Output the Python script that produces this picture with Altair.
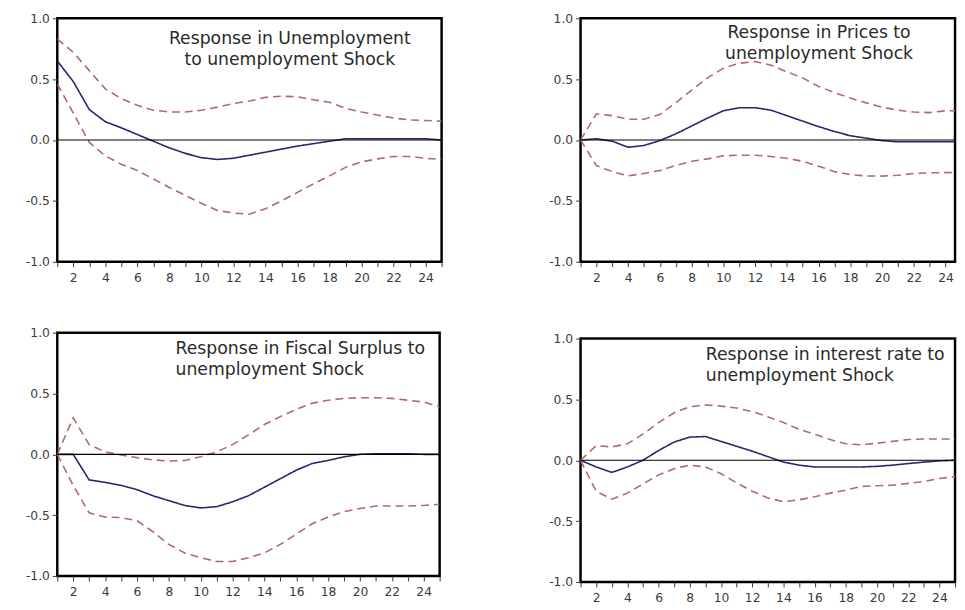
import altair as alt
import pandas as pd

periods = list(range(1, 26))

# Response in Unemployment to unemployment shock
unemp_resp = [0.65, 0.48, 0.25, 0.15, 0.10, 0.045, -0.01, -0.065, -0.11, -0.145, -0.16, -0.15, -0.125,
              -0.10, -0.075, -0.05, -0.03, -0.01, 0.01, 0.01, 0.01, 0.01, 0.01, 0.01, 0.0]
unemp_upper = [0.83, 0.72, 0.57, 0.42, 0.34, 0.285, 0.245, 0.23, 0.23, 0.245, 0.27, 0.30, 0.32,
               0.35, 0.36, 0.355, 0.33, 0.31, 0.26, 0.23, 0.205, 0.18, 0.165, 0.16, 0.155]
unemp_lower = [0.46, 0.22, -0.02, -0.13, -0.20, -0.25, -0.32, -0.39, -0.455, -0.52, -0.58, -0.60, -0.61,
               -0.565, -0.50, -0.43, -0.36, -0.295, -0.225, -0.18, -0.155, -0.135, -0.135, -0.15, -0.16]

# Response in Prices to unemployment shock
price_resp = [0.0, 0.01, -0.01, -0.06, -0.045, -0.005, 0.05, 0.115, 0.18, 0.24, 0.265, 0.265, 0.245,
              0.20, 0.155, 0.11, 0.07, 0.035, 0.015, -0.005, -0.015, -0.015, -0.015, -0.015, -0.015]
price_upper = [0.0, 0.215, 0.20, 0.17, 0.17, 0.21, 0.305, 0.41, 0.51, 0.59, 0.63, 0.645, 0.615,
               0.56, 0.51, 0.44, 0.39, 0.345, 0.305, 0.27, 0.245, 0.23, 0.225, 0.24, 0.24]
price_lower = [0.0, -0.21, -0.26, -0.295, -0.275, -0.25, -0.21, -0.175, -0.155, -0.13, -0.125, -0.125, -0.135,
               -0.15, -0.175, -0.215, -0.26, -0.285, -0.295, -0.297, -0.29, -0.275, -0.27, -0.268, -0.265]

# Response in Fiscal Surplus to unemployment shock
fisc_resp = [0.0, 0.0, -0.21, -0.23, -0.255, -0.29, -0.34, -0.38, -0.42, -0.44, -0.43, -0.39, -0.34,
             -0.27, -0.20, -0.13, -0.075, -0.05, -0.02, 0.0, 0.005, 0.005, 0.005, 0.0, 0.0]
fisc_upper = [0.0, 0.30, 0.08, 0.02, -0.005, -0.027, -0.045, -0.055, -0.05, -0.02, 0.02, 0.08, 0.16,
              0.245, 0.31, 0.37, 0.42, 0.445, 0.46, 0.465, 0.465, 0.46, 0.445, 0.43, 0.39]
fisc_lower = [0.0, -0.255, -0.48, -0.515, -0.52, -0.545, -0.635, -0.74, -0.81, -0.85, -0.88, -0.88, -0.85,
              -0.81, -0.74, -0.655, -0.57, -0.515, -0.47, -0.445, -0.425, -0.425, -0.425, -0.42, -0.41]

# Response in interest rate to unemployment shock
rate_resp = [0.0, -0.055, -0.10, -0.055, 0.0, 0.08, 0.15, 0.19, 0.195, 0.155, 0.115, 0.075, 0.03,
             -0.015, -0.04, -0.055, -0.055, -0.055, -0.055, -0.05, -0.04, -0.027, -0.015, -0.005, 0.0]
rate_upper = [0.0, 0.12, 0.11, 0.135, 0.215, 0.31, 0.39, 0.44, 0.455, 0.445, 0.43, 0.40, 0.357,
              0.31, 0.255, 0.215, 0.17, 0.135, 0.127, 0.14, 0.155, 0.17, 0.175, 0.175, 0.175]
rate_lower = [0.0, -0.255, -0.32, -0.27, -0.195, -0.12, -0.07, -0.04, -0.055, -0.11, -0.185, -0.255, -0.31,
              -0.34, -0.325, -0.30, -0.27, -0.245, -0.215, -0.21, -0.205, -0.19, -0.175, -0.15, -0.135]

titles = {
    "unemp": ["Response in Unemployment", "to unemployment Shock"],
    "price": ["Response in Prices to", "unemployment Shock"],
    "fisc": ["Response in Fiscal Surplus to", "unemployment Shock"],
    "rate": ["Response in interest rate to", "unemployment Shock"],
}
y_ticks = [-1.0, -0.5, 0.0, 0.5, 1.0]

NAVY = "#26266e"
RED = "#b06a6a"
FONT = "DejaVu Sans"


def panel(resp, up, lo, lines, tx, ty, talign, width, yext, xmax=25):
    rows = []
    for name, kind, vals in (("response", "response", resp), ("upper", "band", up), ("lower", "band", lo)):
        for p, v in zip(periods, vals):
            rows.append({"period": p, "value": v, "series": name, "kind": kind})
    df = pd.DataFrame(rows)
    one = pd.DataFrame({"k": [0]})

    xs = alt.Scale(domain=[1, xmax], nice=False, zero=False)
    ys = alt.Scale(domain=[-1, 1], nice=False, zero=False)
    xvals = [p for p in periods if p <= xmax]
    xax = alt.Axis(orient="bottom", values=xvals, labelExpr="datum.value % 2 == 0 ? datum.label : ''",
                   format="d", tickSize=5, labelPadding=5, labelFlush=False,
                   labelOverlap=False, grid=False, domain=False)
    yax = alt.Axis(orient="left", values=y_ticks, tickSize=5, labelPadding=3,
                   labelExpr="datum.value < 0 ? '-' + format(-datum.value, '.1f') : format(datum.value, '.1f')",
                   minExtent=yext, maxExtent=yext, grid=False, domain=False)

    line = alt.Chart(df).mark_line(strokeWidth=1.6, clip=True).encode(
        x=alt.X("period:Q", scale=xs, axis=xax, title=None),
        y=alt.Y("value:Q", scale=ys, axis=yax, title=None),
        color=alt.Color("kind:N", scale=alt.Scale(domain=["response", "band"], range=[NAVY, RED]), legend=None),
        strokeDash=alt.StrokeDash("kind:N", scale=alt.Scale(domain=["response", "band"], range=[[1, 0], [8, 5]]),
                                  legend=None),
        detail="series:N",
    )
    zero = alt.Chart(one).mark_rule(color="black", strokeWidth=1.2).encode(y=alt.YDatum(0, axis=None))
    text = alt.Chart(one).mark_text(align=talign, baseline="alphabetic", font=FONT, fontSize=17.5,
                                    lineHeight=21, color="#2a2a2a").encode(
        x=alt.value(tx), y=alt.value(ty), text=alt.value(lines))
    return alt.layer(line, zero, text).resolve_axis(x="independent", y="independent").properties(
        width=width, height=247)


tl = panel(unemp_resp, unemp_upper, unemp_lower, titles["unemp"], 236, 26, "center", 390, 48)
bl = panel(fisc_resp, fisc_upper, fisc_lower, titles["fisc"], 120, 22, "left", 388, 48)
tr = panel(price_resp, price_upper, price_lower, titles["price"], 242, 20, "center", 380, 47, xmax=24.6)
br = panel(rate_resp, rate_upper, rate_lower, titles["rate"], 127, 22, "left", 380, 47)

left_col = alt.vconcat(tl, bl, spacing=40)
right_col = alt.vconcat(tr, br, spacing=46)
chart = alt.hconcat(left_col, right_col, spacing=90).properties(
    padding={"left": 0, "top": -2, "right": 0, "bottom": 0}
).configure_view(
    stroke="black", strokeWidth=2.5
).configure_axis(
    labelFont=FONT, labelFontSize=12.5, labelColor="#3a3a3a", tickColor="#3a3a3a", tickWidth=1
)

chart.save("out.html", embed_options={"renderer": "svg", "actions": False})
